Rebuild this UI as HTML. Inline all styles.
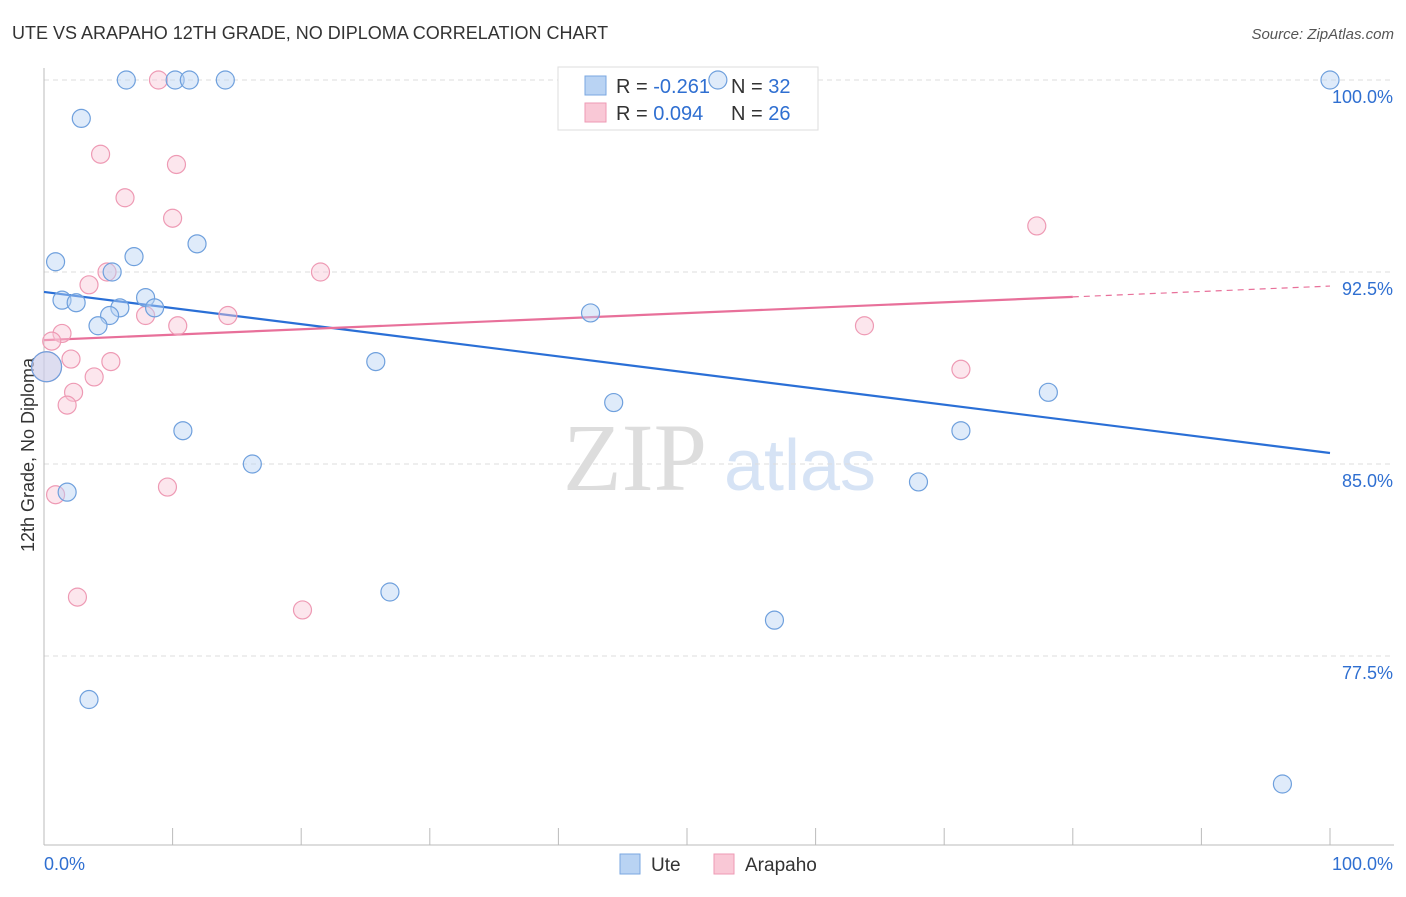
<!DOCTYPE html>
<html><head><meta charset="utf-8"><style>
body{margin:0;background:#fff;font-family:"Liberation Sans",sans-serif;}
svg text{font-family:"Liberation Sans",sans-serif;}
</style></head><body>
<svg id="chart" width="1406" height="892">
<text x="12" y="39" font-size="18" fill="#333">UTE VS ARAPAHO 12TH GRADE, NO DIPLOMA CORRELATION CHART</text>
<text x="1394" y="39" font-size="15" fill="#555" font-style="italic" text-anchor="end">Source: ZipAtlas.com</text>
<text x="34" y="455" font-size="18" fill="#333" transform="rotate(-90 34 455)" text-anchor="middle">12th Grade, No Diploma</text>
<g><text x="635" y="490" font-size="96" fill="#ddd" style="font-family:'Liberation Serif',serif" text-anchor="middle">ZIP</text><text x="800" y="490" font-size="72" fill="#d6e3f5" text-anchor="middle">atlas</text></g>
<g id="grid"></g><g id="axes"></g><g id="lines"></g>
<g>
<rect x="558" y="67" width="260" height="63" fill="#fff" stroke="#ddd"/>
<rect x="585" y="76" width="21" height="19" fill="#b9d3f3" stroke="#7aa7e0"/>
<rect x="585" y="103" width="21" height="19" fill="#f9c8d6" stroke="#ee9ab4"/>
<text x="616" y="93" font-size="20" fill="#333">R = <tspan fill="#2f6fd1">-0.261</tspan></text>
<text x="731" y="93" font-size="20" fill="#333">N = <tspan fill="#2f6fd1">32</tspan></text>
<text x="616" y="120" font-size="20" fill="#333">R = <tspan fill="#2f6fd1"> 0.094</tspan></text>
<text x="731" y="120" font-size="20" fill="#333">N = <tspan fill="#2f6fd1">26</tspan></text>
</g>
<g id="pts"></g>
<g>
<rect x="620" y="854" width="20" height="20" fill="#b9d3f3" stroke="#7aa7e0"/>
<text x="651" y="871" font-size="19" fill="#333">Ute</text>
<rect x="714" y="854" width="20" height="20" fill="#f9c8d6" stroke="#ee9ab4"/>
<text x="745" y="871" font-size="19" fill="#333">Arapaho</text>
</g>
</svg>
<script>
const yTicks=[100,92.5,85,77.5];
const yTickLabels=["100.0%","92.5%","85.0%","77.5%"];
const uteX=[6.4,10.2,11.3,14.1,52.4,100,2.9,0.9,7.0,11.9,5.3,1.4,2.5,5.9,7.9,8.6,5.1,4.2,42.5,0.2,25.8,44.3,78.1,10.8,71.3,16.2,1.8,68.0,26.9,56.8,3.5,96.3];
const uteY=[100,100,100,100,100,100,98.5,92.9,93.1,93.6,92.5,91.4,91.3,91.1,91.5,91.1,90.8,90.4,90.9,88.8,89.0,87.4,87.8,86.3,86.3,85.0,83.9,84.3,80.0,78.9,75.8,72.5];
const araX=[8.9,4.4,10.3,6.3,10.0,77.2,4.9,21.5,3.5,7.9,14.3,10.4,63.8,1.4,0.6,2.1,5.2,0.2,3.9,71.3,2.3,1.8,9.6,0.9,2.6,20.1];
const araY=[100,97.1,96.7,95.4,94.6,94.3,92.5,92.5,92.0,90.8,90.8,90.4,90.4,90.1,89.8,89.1,89.0,88.8,88.4,88.7,87.8,87.3,84.1,83.8,79.8,79.3];
const uteTrend=[91.72,85.43];
const araTrend=[89.84,91.95];
const xs=v=>44+v*12.86, ys=v=>80+(100-v)*25.6;
const NS="http://www.w3.org/2000/svg";
function mk(p,t,a){const e=document.createElementNS(NS,t);for(const k in a)e.setAttribute(k,a[k]);document.getElementById(p).appendChild(e);return e;}
yTicks.forEach((t,i)=>{
 const l=mk('grid','line',{x1:44,x2:1394,y1:ys(t),y2:ys(t),stroke:'#ddd','stroke-dasharray':'5,4'});
 
 
 const tx=mk('grid','text',{x:1393,y:ys(t)+23,'font-size':18,fill:'#2f6fd1','text-anchor':'end'});tx.textContent=yTickLabels[i];
 
 
});
mk('axes','line',{x1:44,x2:44,y1:68,y2:845,stroke:'#bbb'});
mk('axes','line',{x1:44,x2:1394,y1:845,y2:845,stroke:'#bbb'});
for(let i=0;i<=10;i++){mk('axes','line',{x1:xs(i*10),x2:xs(i*10),y1:828,y2:845,stroke:'#bbb'});}
let t0=mk('axes','text',{x:44,y:870,'font-size':18,fill:'#2f6fd1'});t0.textContent='0.0%';


let t1=mk('axes','text',{x:1393,y:870,'font-size':18,fill:'#2f6fd1','text-anchor':'end'});t1.textContent='100.0%';


const bl=mk('lines','line',{x1:xs(0),y1:ys(uteTrend[0]),x2:xs(100),y2:ys(uteTrend[1]),stroke:'#2a6fd6','stroke-width':2.2});


const pyAt=x=>araTrend[0]+(araTrend[1]-araTrend[0])*x/100;
const pl=mk('lines','line',{x1:xs(0),y1:ys(pyAt(0)),x2:xs(80),y2:ys(pyAt(80)),stroke:'#e8709a','stroke-width':2.2});


const pd=mk('lines','line',{x1:xs(80),y1:ys(pyAt(80)),x2:xs(100),y2:ys(pyAt(100)),stroke:'#e8709a','stroke-width':1.2,'stroke-dasharray':'6,5'});


function pts(X,Y,fill,stroke,name){X.forEach((x,i)=>{const r=(x<0.5&&Y[i]>88&&Y[i]<89.5)?15:9;
 const c=mk('pts','circle',{cx:xs(x),cy:ys(Y[i]),r:r,fill:fill,'fill-opacity':0.45,stroke:stroke,'stroke-width':1.2});
 
 });}
pts(araX,araY,'#f9c8d6','#ee9ab4','arapaho-point');
pts(uteX,uteY,'#b9d3f3','#6fa0dd','ute-point');
</script>
</body></html>
